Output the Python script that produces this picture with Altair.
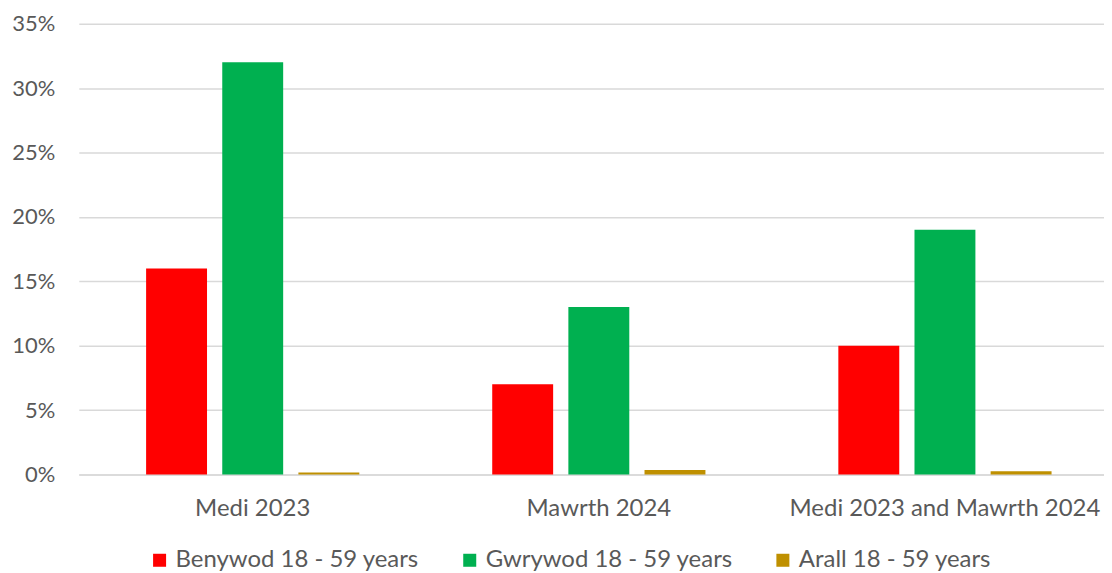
import altair as alt
import pandas as pd

categories = ["Medi 2023", "Mawrth 2024", "Medi 2023 and Mawrth 2024"]
series = ["Benywod 18 - 59 years", "Gwrywod 18 - 59 years", "Arall 18 - 59 years"]
colors = ["#ff0000", "#00b050", "#bf9000"]
benywod = [0.16, 0.07, 0.10]
gwrywod = [0.32, 0.13, 0.19]
arall = [0.0015, 0.0035, 0.0025]

rows = []
for i, c in enumerate(categories):
    for s, vals in zip(series, [benywod, gwrywod, arall]):
        rows.append({"category": c, "series": s, "value": vals[i]})
df = pd.DataFrame(rows)

FONT = "Lato"
TXT = "#595959"

chart = alt.Chart(df).mark_bar().encode(
    x=alt.X("category:N", sort=categories, title=None,
            scale=alt.Scale(paddingInner=0.384, paddingOuter=0.173, align=0.562),
            axis=alt.Axis(labelAngle=0, ticks=False, domainColor="#d9d9d9", domainWidth=1.5,
                          labelFontSize=24, labelColor=TXT, labelFont=FONT, labelPadding=22,
                          labelLimit=500)),
    xOffset=alt.XOffset("series:N", sort=series,
                        scale=alt.Scale(paddingInner=0.2, paddingOuter=0)),
    y=alt.Y("value:Q", title=None,
            scale=alt.Scale(domain=[0, 0.35], nice=False),
            axis=alt.Axis(format=".0%", values=[0, 0.05, 0.1, 0.15, 0.2, 0.25, 0.3, 0.35],
                          ticks=False, domain=False, gridColor="#d9d9d9", gridWidth=1.5,
                          labelFontSize=22, labelColor=TXT, labelFont=FONT, labelPadding=24)),
    color=alt.Color("series:N", sort=series,
                    scale=alt.Scale(domain=series, range=colors),
                    legend=alt.Legend(title=None, orient="none", direction="horizontal",
                                      legendX=69, legendY=526,
                                      symbolType="square", symbolSize=170, symbolStrokeWidth=0,
                                      labelFontSize=24, labelColor=TXT, labelFont=FONT,
                                      columnPadding=38, labelOffset=4, labelLimit=500)),
).properties(width=1028, height=452).configure(
    background="white", padding={"left": 3, "top": 4, "right": 0, "bottom": 2}
).configure_view(stroke=None)

chart.save("out.html", embed_options={"renderer": "svg", "actions": False})
